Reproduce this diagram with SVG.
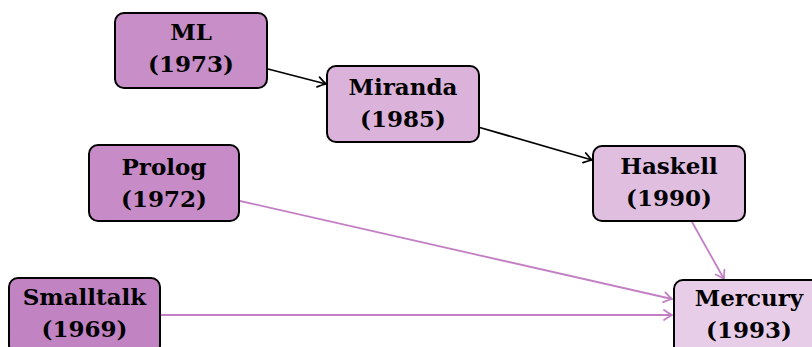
<svg xmlns="http://www.w3.org/2000/svg" width="812" height="347" viewBox="0 0 812 347">
<style>
.box{stroke:#000;stroke-width:2;}
.t{font-family:"DejaVu Serif",serif;font-weight:bold;font-size:23px;fill:#000;text-anchor:middle;}
.blk{stroke:#000;stroke-width:1.8;fill:none;}
.pur{stroke:#c37fc3;stroke-width:1.8;fill:none;}
</style>
<defs>
<marker id="ab" markerUnits="userSpaceOnUse" markerWidth="14" markerHeight="14" refX="0" refY="0" viewBox="-10 -7 12 14" orient="auto">
<path d="M-8,-5 Q-3,-1.5 0,0 Q-3,1.5 -8,5" fill="none" stroke="#000" stroke-width="1.7" stroke-linecap="round"/>
</marker>
<marker id="ap" markerUnits="userSpaceOnUse" markerWidth="14" markerHeight="14" refX="0" refY="0" viewBox="-10 -7 12 14" orient="auto">
<path d="M-8,-5 Q-3,-1.5 0,0 Q-3,1.5 -8,5" fill="none" stroke="#c37fc3" stroke-width="1.7" stroke-linecap="round"/>
</marker>
</defs>
<g id="connectors">
<line class="blk" x1="268" y1="69" x2="326" y2="84" marker-end="url(#ab)"/>
<line class="blk" x1="478" y1="127" x2="592" y2="160" marker-end="url(#ab)"/>
<line class="pur" x1="240" y1="201" x2="672" y2="299" marker-end="url(#ap)"/>
<line class="pur" x1="161" y1="315" x2="672" y2="315" marker-end="url(#ap)"/>
<line class="pur" x1="692" y1="222" x2="724" y2="279" marker-end="url(#ap)"/>
</g>
<g id="ml">
<rect class="box" x="115" y="13" width="152" height="75" rx="9" fill="#c78ec7"/>
<text class="t" x="191" y="40">ML</text>
<text class="t" x="191" y="72">(1973)</text>
</g>
<g id="miranda">
<rect class="box" x="327" y="66" width="152" height="76" rx="9" fill="#dab2da"/>
<text class="t" x="403" y="95">Miranda</text>
<text class="t" x="403" y="127">(1985)</text>
</g>
<g id="haskell">
<rect class="box" x="593" y="146" width="152" height="75" rx="9" fill="#e0bee0"/>
<text class="t" x="669" y="174">Haskell</text>
<text class="t" x="669" y="206">(1990)</text>
</g>
<g id="prolog">
<rect class="box" x="89" y="145" width="150" height="76" rx="9" fill="#c78cc7"/>
<text class="t" x="164" y="175">Prolog</text>
<text class="t" x="164" y="207">(1972)</text>
</g>
<g id="smalltalk">
<rect class="box" x="9" y="278" width="151" height="76" rx="9" fill="#c283c2"/>
<text class="t" x="84.5" y="305">Smalltalk</text>
<text class="t" x="84.5" y="337">(1969)</text>
</g>
<g id="mercury">
<rect class="box" x="674" y="280" width="150" height="76" rx="9" fill="#e8cde8"/>
<text class="t" x="749" y="306">Mercury</text>
<text class="t" x="749" y="338">(1993)</text>
</g>
</svg>
